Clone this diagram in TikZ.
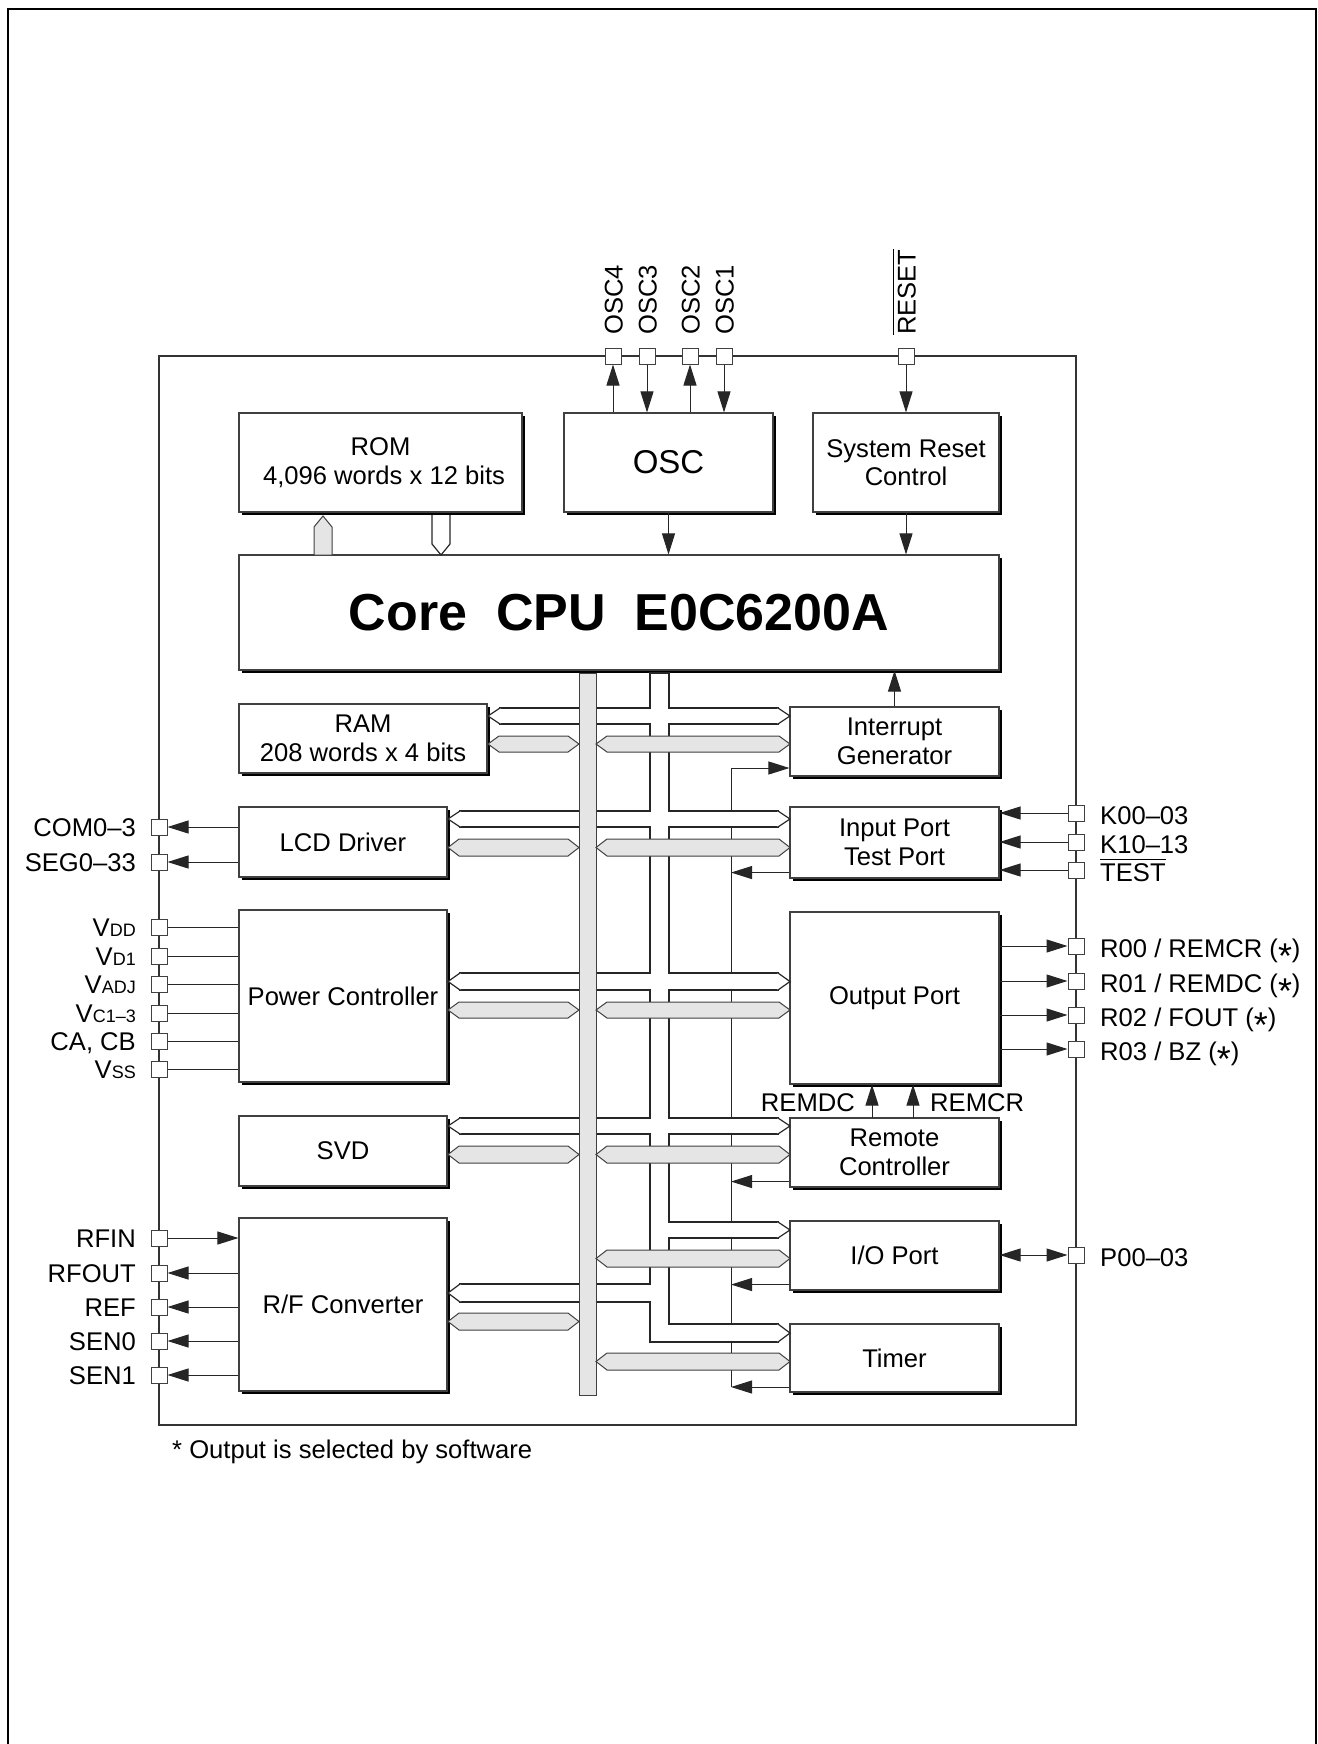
\documentclass[tikz,border=0pt]{standalone}
\usepackage{fontspec}
\setmainfont{Liberation Sans}
\usetikzlibrary{arrows.meta,shadows,calc}
\newcommand{\mfont}{\fontsize{25.6}{28.5}\selectfont}
\newcommand{\ssz}[1]{{\fontsize{18}{18}\selectfont #1}}
\newcommand{\aster}{\raisebox{-0.45em}{\scalebox{1.4}{*}}}
\begin{document}
\begin{tikzpicture}[x=1pt,y=-1pt,
  mod/.style={draw=black!75, line width=1.1pt, fill=white, inner sep=0pt, align=center, font=\mfont,
    general shadow={fill=black, shadow xshift=3.3pt, shadow yshift=-3.3pt}},
  pinbox/.style={draw=black!75, line width=1pt, fill=white, minimum size=16pt, inner sep=0pt},
  sig/.style={draw=black!85, line width=1pt},
  tip/.style={-{Triangle[length=21pt,width=13pt]}},
  lbl/.style={font=\mfont, inner sep=0pt},
  gbus/.style={draw=black!75, line width=1pt, fill=black!10, line join=miter},
  wline/.style={draw=black!85, line width=1.2pt},
]
\useasboundingbox (0,0) rectangle (1317,1744);

% page frame and chip outline
\draw[line width=1.6pt] (8,1744) -- (8,9) -- (1316,9) -- (1316,1744);
\draw[line width=1.1pt, black!80] (159,356) rectangle (1076,1425);

% modules
\node[mod, minimum width=283pt, minimum height=99pt] (rom) at (380.5,462.5) {ROM\\\ 4,096 words x 12 bits};
\node[mod, minimum width=209pt, minimum height=99pt, font=\fontsize{33}{36}\selectfont] (osc) at (668.5,462.5) {OSC};
\node[mod, minimum width=186pt, minimum height=99pt] (src) at (906,462.5) {System Reset\\Control};
\node[mod, minimum width=760pt, minimum height=115pt, font=\fontsize{52}{56}\selectfont\bfseries] (cpu) at (619,612.5) {Core\ \ CPU\ \ E0C6200A};
\node[mod, minimum width=248pt, minimum height=69pt] (ram) at (363,738.5) {RAM\\208 words x 4 bits};
\node[mod, minimum width=209pt, minimum height=69pt] (int) at (894.5,741.5) {Interrupt\\Generator};
\node[mod, minimum width=208pt, minimum height=70pt] (lcd) at (343,842) {LCD Driver};
\node[mod, minimum width=209pt, minimum height=71pt] (inp) at (894.5,842.5) {Input Port\\Test Port};
\node[mod, minimum width=208pt, minimum height=172pt] (pwr) at (343,996) {Power Controller};
\node[mod, minimum width=209pt, minimum height=172pt] (out) at (894.5,998) {Output Port};
\node[mod, minimum width=208pt, minimum height=70pt] (svd) at (343,1151) {SVD};
\node[mod, minimum width=209pt, minimum height=69pt] (rem) at (894.5,1152.5) {Remote\\Controller};
\node[mod, minimum width=208pt, minimum height=173pt] (rfc) at (343,1304.5) {R/F Converter};
\node[mod, minimum width=209pt, minimum height=69pt] (iop) at (894.5,1255.5) {I/O Port};
\node[mod, minimum width=209pt, minimum height=68pt] (tim) at (894.5,1358) {Timer};

% internal control line
\coordinate (tapA) at (731,768);
\coordinate (tapB) at (731,1387);
\draw[sig] (tapA) -- (tapB);
\draw[sig,tip] (tapA) -- (tapA -| int.west);
\coordinate (s1) at ([yshift=6pt]inp.south west);
\coordinate (s2) at ([yshift=6pt]rem.south west);
\coordinate (s3) at ([yshift=6pt]iop.south west);
\draw[sig,tip] (s1) -- (s1 -| tapA);
\draw[sig,tip] (s2) -- (s2 -| tapA);
\draw[sig,tip] (s3) -- (s3 -| tapA);
\draw[sig,tip] (tim.west |- tapB) -- (tapB);

% white (hollow) bus tree: outline pass then interior pass
\def\wsegs{650/673/669/1342, 500/708/659.5/724, 460/811/659.5/827, 460/973/659.5/990, 460/1118/659.5/1134, 460/1284/659.5/1302,
  659.5/708/778/724, 659.5/811/778/827, 659.5/973/778/990, 659.5/1118/778/1134, 659.5/1222/778/1238, 659.5/1324/778/1342}
\foreach \xa/\ya/\xb/\yb in \wsegs
  \fill[black!85] ({\xa-0.6},{\ya-0.6}) rectangle ({\xb+0.6},{\yb+0.6});
\foreach \xa/\ya/\xb/\yb in \wsegs
  \fill[white] ({\xa+0.6},{\ya+0.6}) rectangle ({\xb-0.6},{\yb-0.6});
\foreach \b/\t/\ya/\yb in {500/488/708/724, 460/448/811/827, 460/448/973/990, 460/448/1118/1134, 460/448/1284/1302,
  778/790/708/724, 778/790/811/827, 778/790/973/990, 778/790/1118/1134, 778/790/1222/1238, 778/790/1324/1342}{
  \pgfmathsetmacro\dd{(\t-\b)/12}
  \fill[white] ({\b-\dd},{\ya+0.6}) -- (\b,{\ya+0.6}) -- (\t,{(\ya+\yb)/2}) -- (\b,{\yb-0.6}) -- ({\b-\dd},{\yb-0.6}) -- cycle;
  \draw[wline] (\b,\ya) -- (\t,{(\ya+\yb)/2}) -- (\b,\yb);
}

% gray data bus
\filldraw[gbus] (579,673) rectangle (596,1395);
\foreach \xa/\xb/\ya/\yb in {488/579/736/752, 448/579/839/856, 448/579/1002/1018, 448/579/1146/1163, 448/579/1313/1330,
  596/790/736/752, 596/790/839/856, 596/790/1002/1018, 596/790/1146/1163, 596/790/1250/1267, 596/790/1353/1370}
  \filldraw[gbus] (\xa,{(\ya+\yb)/2}) -- ({\xa+11},\ya) -- ({\xb-11},\ya) -- (\xb,{(\ya+\yb)/2}) -- ({\xb-11},\yb) -- ({\xa+11},\yb) -- cycle;

% ROM buses
\filldraw[gbus] (314,555) -- (314,527) -- (323,516) -- (332,527) -- (332,555) -- cycle;
\fill[white] (432,515) -- (432,544) -- (441,555) -- (450,544) -- (450,515) -- cycle;
\draw[wline] (432,515) -- (432,544) -- (441,555) -- (450,544) -- (450,515);

% top pins
\node[pinbox] (posc4) at (613,356) {};
\node[pinbox] (posc3) at (647,356) {};
\node[pinbox] (posc2) at (690,356) {};
\node[pinbox] (posc1) at (724,356) {};
\node[pinbox] (preset) at (906,356) {};
\draw[sig,tip] (posc4 |- osc.north) -- (posc4.south);
\draw[sig,tip] (posc3.south) -- (posc3 |- osc.north);
\draw[sig,tip] (posc2 |- osc.north) -- (posc2.south);
\draw[sig,tip] (posc1.south) -- (posc1 |- osc.north);
\draw[sig,tip] (preset.south) -- (preset |- src.north);
\draw[sig,tip] (osc.south) -- (osc.south |- cpu.north);
\draw[sig,tip] (src.south) -- (src.south |- cpu.north);
\draw[sig,tip] (int.north) -- (int.north |- cpu.south);
\node[lbl, rotate=90, anchor=base west] (losc4) at (622.5,335) {OSC4};
\node[lbl, rotate=90, anchor=base west] (losc3) at (656.5,335) {OSC3};
\node[lbl, rotate=90, anchor=base west] (losc2) at (699.5,335) {OSC2};
\node[lbl, rotate=90, anchor=base west] (losc1) at (733.5,335) {OSC1};
\node[lbl, rotate=90, anchor=base west] (lreset) at (915.5,335) {RESET};
\draw[line width=1pt] ([xshift=-3.5pt]lreset.north west) -- ([xshift=-3.5pt]lreset.north east);

% left pins
\foreach \n/\y in {pcom/827, pseg/862, pvdd/927, pvdone/956, pvadj/984, pvc/1013, pcacb/1041, pvss/1069,
  prfin/1238, prfout/1273, pref/1307, psenz/1341, pseno/1375}
  \node[pinbox] (\n) at (159,\y) {};
\draw[sig,tip] (lcd.west |- pcom) -- (pcom.east);
\draw[sig,tip] (lcd.west |- pseg) -- (pseg.east);
\foreach \n in {pvdd, pvdone, pvadj, pvc, pcacb, pvss}
  \draw[sig] (\n.east) -- (\n -| pwr.west);
\draw[sig,tip] (prfin.east) -- (prfin -| rfc.west);
\foreach \n in {prfout, pref, psenz, pseno}
  \draw[sig,tip] (rfc.west |- \n) -- (\n.east);
\node[lbl, anchor=base east] (lcom) at (136,836.5) {COM0–3};
\node[lbl, anchor=base east] (lseg) at (136,871.5) {SEG0–33};
\node[lbl, anchor=base east] (lvdd) at (136,936.5) {V\ssz{DD}};
\node[lbl, anchor=base east] (lvd1) at (136,965.5) {V\ssz{D1}};
\node[lbl, anchor=base east] (lvadj) at (136,993.5) {V\ssz{ADJ}};
\node[lbl, anchor=base east] (lvc) at (136,1022.5) {V\ssz{C1–3}};
\node[lbl, anchor=base east] (lcacb) at (136,1050.5) {CA, CB};
\node[lbl, anchor=base east] (lvss) at (136,1078.5) {V\ssz{SS}};
\node[lbl, anchor=base east] (lrfin) at (136,1247.5) {RFIN};
\node[lbl, anchor=base east] (lrfout) at (136,1282.5) {RFOUT};
\node[lbl, anchor=base east] (lref) at (136,1316.5) {REF};
\node[lbl, anchor=base east] (lsen0) at (136,1350.5) {SEN0};
\node[lbl, anchor=base east] (lsen1) at (136,1384.5) {SEN1};

% right pins
\foreach \n/\y in {pk00/813, pk10/842, ptest/870, pr00/946, pr01/981, pr02/1015, pr03/1049, pp00/1255}
  \node[pinbox] (\n) at (1076,\y) {};
\foreach \n in {pk00, pk10, ptest}
  \draw[sig,tip] (\n.west) -- (\n -| inp.east);
\foreach \n in {pr00, pr01, pr02, pr03}
  \draw[sig,tip] (out.east |- \n) -- (\n.west);
\draw[sig,{Triangle[length=21pt,width=13pt]}-{Triangle[length=21pt,width=13pt]}] (iop.east |- pp00) -- (pp00.west);
\node[lbl, anchor=base west] (lk00) at (1100,824) {K00–03};
\node[lbl, anchor=base west] (lk10) at (1100,853) {K10–13};
\node[lbl, anchor=base west] (ltest) at (1100,881) {TEST};
\draw[line width=1pt] ([yshift=3.5pt]ltest.north west) -- ([yshift=3.5pt]ltest.north east);
\node[lbl, anchor=base west] (lr00) at (1100,957) {R00 / REMCR (\aster)};
\node[lbl, anchor=base west] (lr01) at (1100,992) {R01 / REMDC (\aster)};
\node[lbl, anchor=base west] (lr02) at (1100,1026) {R02 / FOUT (\aster)};
\node[lbl, anchor=base west] (lr03) at (1100,1060) {R03 / BZ (\aster)};
\node[lbl, anchor=base west] (lp00) at (1100,1266) {P00–03};

% remote controller signals
\coordinate (remdc) at (872,1118);
\coordinate (remcr) at (913,1118);
\draw[sig,tip] (remdc) -- (remdc |- out.south);
\draw[sig,tip] (remcr) -- (remcr |- out.south);
\node[lbl, anchor=base east] (lremdc) at (855,1111) {REMDC};
\node[lbl, anchor=base west] (lremcr) at (930,1111) {REMCR};

% footnote
\node[lbl, anchor=base west] (note) at (172,1458) {* Output is selected by software};
\end{tikzpicture}
\end{document}
